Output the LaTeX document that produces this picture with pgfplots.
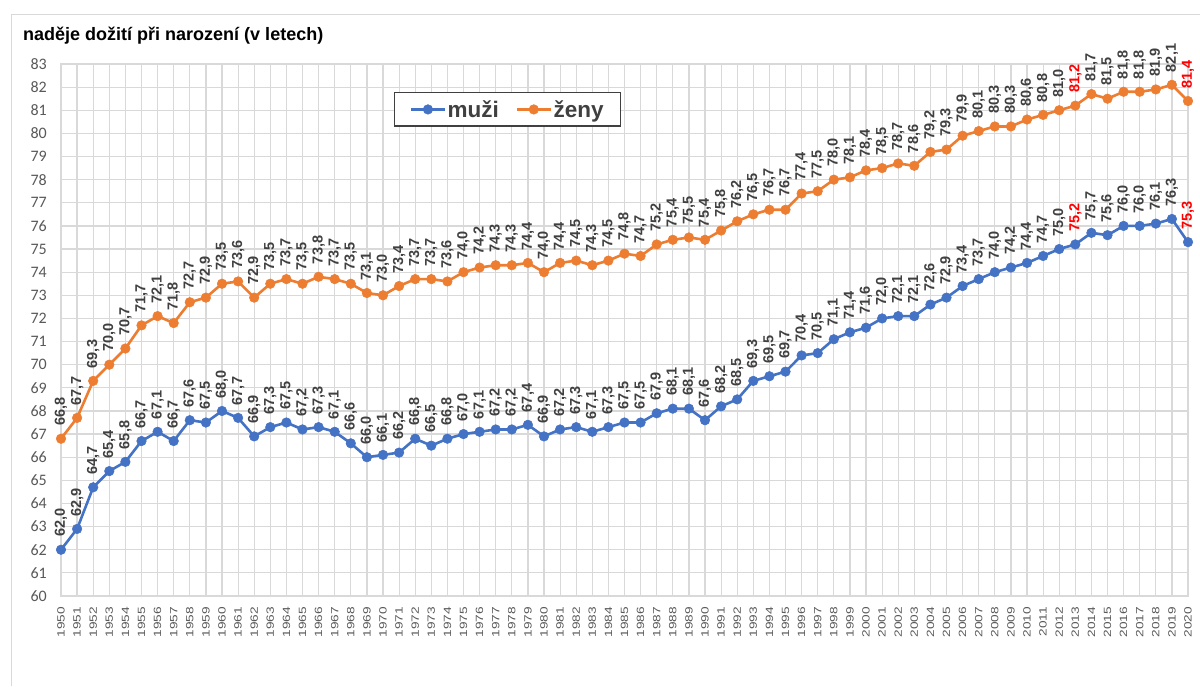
\documentclass[border=0pt]{standalone}
\usepackage{fontspec}
\setmainfont{Liberation Sans}
\newfontfamily\carlito{Carlito}
\newfontfamily\xtfont[FakeStretch=1.3]{Liberation Sans}
\usepackage{pgfplots}
\pgfplotsset{compat=1.18}
\usepackage{pgfplotstable}
\definecolor{mblue}{HTML}{4472C4}
\definecolor{forange}{HTML}{ED7D31}
\definecolor{gridc}{HTML}{D9D9D9}
\definecolor{lab}{HTML}{404040}
\definecolor{tickc}{HTML}{595959}
\definecolor{hl}{HTML}{FF0000}
\newcommand{\R}[1]{\textcolor{hl}{#1}}

\pgfplotstableread{
year m f ml fl
1950 62.0 66.8 62,0 66,8
1951 62.9 67.7 62,9 67,7
1952 64.7 69.3 64,7 69,3
1953 65.4 70.0 65,4 70,0
1954 65.8 70.7 65,8 70,7
1955 66.7 71.7 66,7 71,7
1956 67.1 72.1 67,1 72,1
1957 66.7 71.8 66,7 71,8
1958 67.6 72.7 67,6 72,7
1959 67.5 72.9 67,5 72,9
1960 68.0 73.5 68,0 73,5
1961 67.7 73.6 67,7 73,6
1962 66.9 72.9 66,9 72,9
1963 67.3 73.5 67,3 73,5
1964 67.5 73.7 67,5 73,7
1965 67.2 73.5 67,2 73,5
1966 67.3 73.8 67,3 73,8
1967 67.1 73.7 67,1 73,7
1968 66.6 73.5 66,6 73,5
1969 66.0 73.1 66,0 73,1
1970 66.1 73.0 66,1 73,0
1971 66.2 73.4 66,2 73,4
1972 66.8 73.7 66,8 73,7
1973 66.5 73.7 66,5 73,7
1974 66.8 73.6 66,8 73,6
1975 67.0 74.0 67,0 74,0
1976 67.1 74.2 67,1 74,2
1977 67.2 74.3 67,2 74,3
1978 67.2 74.3 67,2 74,3
1979 67.4 74.4 67,4 74,4
1980 66.9 74.0 66,9 74,0
1981 67.2 74.4 67,2 74,4
1982 67.3 74.5 67,3 74,5
1983 67.1 74.3 67,1 74,3
1984 67.3 74.5 67,3 74,5
1985 67.5 74.8 67,5 74,8
1986 67.5 74.7 67,5 74,7
1987 67.9 75.2 67,9 75,2
1988 68.1 75.4 68,1 75,4
1989 68.1 75.5 68,1 75,5
1990 67.6 75.4 67,6 75,4
1991 68.2 75.8 68,2 75,8
1992 68.5 76.2 68,5 76,2
1993 69.3 76.5 69,3 76,5
1994 69.5 76.7 69,5 76,7
1995 69.7 76.7 69,7 76,7
1996 70.4 77.4 70,4 77,4
1997 70.5 77.5 70,5 77,5
1998 71.1 78.0 71,1 78,0
1999 71.4 78.1 71,4 78,1
2000 71.6 78.4 71,6 78,4
2001 72.0 78.5 72,0 78,5
2002 72.1 78.7 72,1 78,7
2003 72.1 78.6 72,1 78,6
2004 72.6 79.2 72,6 79,2
2005 72.9 79.3 72,9 79,3
2006 73.4 79.9 73,4 79,9
2007 73.7 80.1 73,7 80,1
2008 74.0 80.3 74,0 80,3
2009 74.2 80.3 74,2 80,3
2010 74.4 80.6 74,4 80,6
2011 74.7 80.8 74,7 80,8
2012 75.0 81.0 75,0 81,0
2013 75.2 81.2 \R{75,2} \R{81,2}
2014 75.7 81.7 75,7 81,7
2015 75.6 81.5 75,6 81,5
2016 76.0 81.8 76,0 81,8
2017 76.0 81.8 76,0 81,8
2018 76.1 81.9 76,1 81,9
2019 76.3 82.1 76,3 82,1
2020 75.3 81.4 \R{75,3} \R{81,4}
}\data

\begin{document}
\begin{tikzpicture}
\useasboundingbox (0,0) rectangle (1200pt,686pt);
\fill[white] (0,0) rectangle (1200pt,686pt);
\draw[gridc, line width=1pt] (11pt,0) -- (11pt,671pt) -- (1200pt,671pt);
\node[anchor=base west, inner sep=0pt, font=\bfseries\fontsize{18}{18}\selectfont] at (23pt,645.5pt) {naděje dožití při narození (v letech)};
\begin{axis}[
  at={(61pt,90pt)}, anchor=south west, scale only axis,
  width=1127pt, height=532pt,
  xmin=1950, xmax=2020, ymin=60, ymax=83,
  xtick={1950,1951,1952,1953,1954,1955,1956,1957,1958,1959,1960,1961,1962,1963,1964,1965,1966,1967,1968,1969,1970,1971,1972,1973,1974,1975,1976,1977,1978,1979,1980,1981,1982,1983,1984,1985,1986,1987,1988,1989,1990,1991,1992,1993,1994,1995,1996,1997,1998,1999,2000,2001,2002,2003,2004,2005,2006,2007,2008,2009,2010,2011,2012,2013,2014,2015,2016,2017,2018,2019,2020},
  ytick={60,61,62,63,64,65,66,67,68,69,70,71,72,73,74,75,76,77,78,79,80,81,82,83},
  grid=major, major grid style={gridc, line width=1.2pt},
  axis line style={gridc, line width=1.2pt},
  major tick length=0pt,
  clip=false,
  /pgf/number format/assume math mode=true,
  yticklabel style={font=\carlito\fontsize{16}{16}\selectfont, text=tickc, inner sep=0pt, anchor=east, xshift=-14pt},
  xticklabel style={font=\xtfont\fontsize{10.5}{10.5}\selectfont, text=tickc, rotate=90, anchor=east, inner xsep=11pt, inner ysep=0pt, /pgf/number format/.cd, 1000 sep={}, fixed, precision=0},
  nodes near coords style={rotate=90, anchor=west, inner xsep=12.5pt, inner ysep=0pt, font=\bfseries\fontsize{14.5}{14.5}\selectfont, text=lab},
  legend style={at={(axis description cs:0.2955,0.947)}, anchor=north west, draw=lab, line width=1.2pt, fill=white, inner xsep=15pt, inner ysep=7.5pt, font=\bfseries\fontsize{22.5}{22.5}\selectfont, text=lab, nodes={inner xsep=1.5pt, inner ysep=0pt}, /tikz/every even column/.append style={column sep=15pt}},
  legend columns=2,
  legend cell align=left,
  legend image code/.code={\draw[mark repeat=2,mark phase=2] plot coordinates {(0pt,0pt) (17pt,0pt) (34pt,0pt)};},
]
\addplot[mblue, line width=2.6pt, mark=*, mark size=4.8pt, mark options={solid, fill=mblue, draw=mblue, line width=0.5pt},
  point meta=explicit symbolic, nodes near coords]
  table[x=year, y=m, meta=ml] {\data};
\addlegendentry{muži}
\addplot[forange, line width=2.6pt, mark=*, mark size=4.8pt, mark options={solid, fill=forange, draw=forange, line width=0.5pt},
  point meta=explicit symbolic, nodes near coords]
  table[x=year, y=f, meta=fl] {\data};
\addlegendentry{ženy}
\end{axis}
\end{tikzpicture}
\end{document}
